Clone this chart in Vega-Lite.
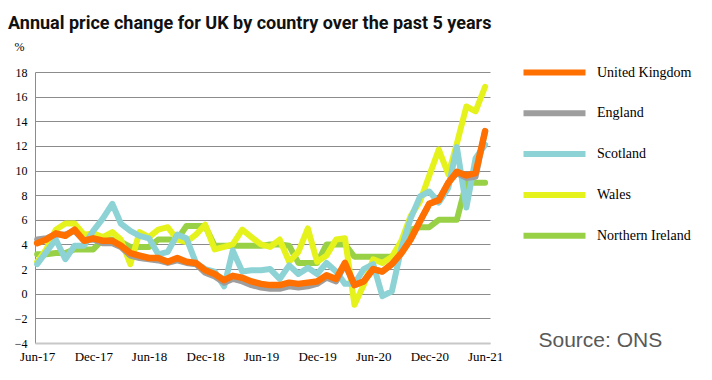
{
  "$schema": "https://vega.github.io/schema/vega-lite/v6.json",
  "width": 455,
  "height": 271,
  "autosize": {"type": "none"},
  "padding": {"left": 35, "top": 72, "right": 222, "bottom": 37},
  "background": "white",
  "title": {
    "text": "Annual price change for UK by country over the past 5 years",
    "anchor": "start",
    "frame": "group",
    "font": "Roboto",
    "fontSize": 18,
    "fontWeight": "bold",
    "color": "#111111",
    "orient": "top",
    "offset": 7,
    "dx": -27
  },
  "config": {
    "view": {"stroke": null},
    "legend": {
      "orient": "none",
      "legendX": 506,
      "legendY": -13,
      "symbolType": "M-3,0H3",
      "symbolSize": 427,
      "symbolStrokeWidth": 6,
      "labelFont": "Liberation Serif",
      "labelFontSize": 14,
      "labelColor": "#000000",
      "labelOffset": 29,
      "rowPadding": 14.8,
      "title": null
    }
  },
  "datasets": {
    "uk": [
      {"d":"2017-06","v":4.1},{"d":"2017-07","v":4.4},{"d":"2017-08","v":4.9},{"d":"2017-09","v":4.7},{"d":"2017-10","v":5.2},{"d":"2017-11","v":4.3},{"d":"2017-12","v":4.5},
      {"d":"2018-01","v":4.3},{"d":"2018-02","v":4.3},{"d":"2018-03","v":3.9},{"d":"2018-04","v":3.3},{"d":"2018-05","v":3.1},{"d":"2018-06","v":2.9},{"d":"2018-07","v":2.9},{"d":"2018-08","v":2.6},{"d":"2018-09","v":2.9},{"d":"2018-10","v":2.6},{"d":"2018-11","v":2.5},{"d":"2018-12","v":1.9},
      {"d":"2019-01","v":1.6},{"d":"2019-02","v":1.1},{"d":"2019-03","v":1.45},{"d":"2019-04","v":1.3},{"d":"2019-05","v":1.0},{"d":"2019-06","v":0.8},{"d":"2019-07","v":0.7},{"d":"2019-08","v":0.7},{"d":"2019-09","v":0.9},{"d":"2019-10","v":0.8},{"d":"2019-11","v":0.9},{"d":"2019-12","v":1.0},
      {"d":"2020-01","v":1.5},{"d":"2020-02","v":1.2},{"d":"2020-03","v":2.5},{"d":"2020-04","v":0.7},{"d":"2020-05","v":1.0},{"d":"2020-06","v":2.0},{"d":"2020-07","v":1.8},{"d":"2020-08","v":2.4},{"d":"2020-09","v":3.3},{"d":"2020-10","v":4.4},{"d":"2020-11","v":5.9},{"d":"2020-12","v":7.3},
      {"d":"2021-01","v":7.6},{"d":"2021-02","v":9.0},{"d":"2021-03","v":9.9},{"d":"2021-04","v":9.6},{"d":"2021-05","v":9.8},{"d":"2021-06","v":13.2}
    ],
    "england": [
      {"d":"2017-06","v":4.4},{"d":"2017-07","v":4.5},{"d":"2017-08","v":4.8},{"d":"2017-09","v":4.8},{"d":"2017-10","v":5.1},{"d":"2017-11","v":4.3},{"d":"2017-12","v":4.4},
      {"d":"2018-01","v":4.1},{"d":"2018-02","v":4.1},{"d":"2018-03","v":3.8},{"d":"2018-04","v":3.1},{"d":"2018-05","v":2.9},{"d":"2018-06","v":2.8},{"d":"2018-07","v":2.7},{"d":"2018-08","v":2.5},{"d":"2018-09","v":2.7},{"d":"2018-10","v":2.5},{"d":"2018-11","v":2.4},{"d":"2018-12","v":1.7},
      {"d":"2019-01","v":1.4},{"d":"2019-02","v":0.9},{"d":"2019-03","v":1.2},{"d":"2019-04","v":1.0},{"d":"2019-05","v":0.7},{"d":"2019-06","v":0.5},{"d":"2019-07","v":0.4},{"d":"2019-08","v":0.4},{"d":"2019-09","v":0.6},{"d":"2019-10","v":0.5},{"d":"2019-11","v":0.6},{"d":"2019-12","v":0.8},
      {"d":"2020-01","v":1.3},{"d":"2020-02","v":1.0},{"d":"2020-03","v":2.4},{"d":"2020-04","v":0.7},{"d":"2020-05","v":1.0},{"d":"2020-06","v":2.0},{"d":"2020-07","v":1.8},{"d":"2020-08","v":2.4},{"d":"2020-09","v":3.3},{"d":"2020-10","v":4.4},{"d":"2020-11","v":5.9},{"d":"2020-12","v":7.3},
      {"d":"2021-01","v":7.6},{"d":"2021-02","v":9.0},{"d":"2021-03","v":9.8},{"d":"2021-04","v":9.4},{"d":"2021-05","v":9.5},{"d":"2021-06","v":13.2}
    ],
    "scotland": [
      {"d":"2017-06","v":2.4},{"d":"2017-07","v":3.4},{"d":"2017-08","v":4.4},{"d":"2017-09","v":2.8},{"d":"2017-10","v":3.9},{"d":"2017-11","v":3.9},{"d":"2017-12","v":5.1},
      {"d":"2018-01","v":6.1},{"d":"2018-02","v":7.3},{"d":"2018-03","v":5.7},{"d":"2018-04","v":5.1},{"d":"2018-05","v":4.7},{"d":"2018-06","v":4.5},{"d":"2018-07","v":3.2},{"d":"2018-08","v":3.4},{"d":"2018-09","v":4.8},{"d":"2018-10","v":4.5},{"d":"2018-11","v":2.5},{"d":"2018-12","v":2.0},
      {"d":"2019-01","v":1.8},{"d":"2019-02","v":0.6},{"d":"2019-03","v":3.5},{"d":"2019-04","v":1.8},{"d":"2019-05","v":1.9},{"d":"2019-06","v":1.9},{"d":"2019-07","v":2.0},{"d":"2019-08","v":1.2},{"d":"2019-09","v":2.3},{"d":"2019-10","v":1.6},{"d":"2019-11","v":2.1},{"d":"2019-12","v":1.6},
      {"d":"2020-01","v":2.5},{"d":"2020-02","v":1.8},{"d":"2020-03","v":0.8},{"d":"2020-04","v":0.8},{"d":"2020-05","v":2.0},{"d":"2020-06","v":2.4},{"d":"2020-07","v":-0.2},{"d":"2020-08","v":0.2},{"d":"2020-09","v":3.7},{"d":"2020-10","v":6.1},{"d":"2020-11","v":7.9},{"d":"2020-12","v":8.3},
      {"d":"2021-01","v":7.4},{"d":"2021-02","v":8.6},{"d":"2021-03","v":11.9},{"d":"2021-04","v":7.0},{"d":"2021-05","v":11.0},{"d":"2021-06","v":12.1}
    ],
    "wales": [
      {"d":"2017-06","v":2.6},{"d":"2017-07","v":3.6},{"d":"2017-08","v":5.2},{"d":"2017-09","v":5.7},{"d":"2017-10","v":5.7},{"d":"2017-11","v":4.8},{"d":"2017-12","v":4.9},
      {"d":"2018-01","v":4.6},{"d":"2018-02","v":5.0},{"d":"2018-03","v":4.4},{"d":"2018-04","v":2.4},{"d":"2018-05","v":5.0},{"d":"2018-06","v":4.6},{"d":"2018-07","v":5.2},{"d":"2018-08","v":5.4},{"d":"2018-09","v":4.4},{"d":"2018-10","v":4.2},{"d":"2018-11","v":4.8},{"d":"2018-12","v":5.6},
      {"d":"2019-01","v":3.6},{"d":"2019-02","v":3.8},{"d":"2019-03","v":4.0},{"d":"2019-04","v":5.2},{"d":"2019-05","v":4.6},{"d":"2019-06","v":4.0},{"d":"2019-07","v":3.8},{"d":"2019-08","v":4.4},{"d":"2019-09","v":2.6},{"d":"2019-10","v":3.4},{"d":"2019-11","v":5.3},{"d":"2019-12","v":2.6},
      {"d":"2020-01","v":3.1},{"d":"2020-02","v":4.4},{"d":"2020-03","v":4.5},{"d":"2020-04","v":-0.9},{"d":"2020-05","v":0.7},{"d":"2020-06","v":2.8},{"d":"2020-07","v":2.5},{"d":"2020-08","v":3.0},{"d":"2020-09","v":4.3},{"d":"2020-10","v":6.3},{"d":"2020-11","v":7.5},{"d":"2020-12","v":9.6},
      {"d":"2021-01","v":11.7},{"d":"2021-02","v":9.7},{"d":"2021-03","v":12.2},{"d":"2021-04","v":15.2},{"d":"2021-05","v":14.8},{"d":"2021-06","v":16.8}
    ],
    "ni": [
      {"d":"2017-06","v":3.2},{"d":"2017-07","v":3.2},{"d":"2017-08","v":3.3},{"d":"2017-09","v":3.3},{"d":"2017-10","v":3.6},{"d":"2017-11","v":3.6},{"d":"2017-12","v":3.6},
      {"d":"2018-01","v":4.4},{"d":"2018-02","v":4.4},{"d":"2018-03","v":4.2},{"d":"2018-04","v":3.8},{"d":"2018-05","v":3.8},{"d":"2018-06","v":3.8},{"d":"2018-07","v":4.4},{"d":"2018-08","v":4.4},{"d":"2018-09","v":4.4},{"d":"2018-10","v":5.5},{"d":"2018-11","v":5.5},{"d":"2018-12","v":5.5},
      {"d":"2019-01","v":3.9},{"d":"2019-02","v":3.9},{"d":"2019-03","v":3.9},{"d":"2019-04","v":3.9},{"d":"2019-05","v":3.9},{"d":"2019-06","v":3.9},{"d":"2019-07","v":4.0},{"d":"2019-08","v":4.0},{"d":"2019-09","v":3.9},{"d":"2019-10","v":2.5},{"d":"2019-11","v":2.5},{"d":"2019-12","v":2.5},
      {"d":"2020-01","v":4.0},{"d":"2020-02","v":4.0},{"d":"2020-03","v":4.0},{"d":"2020-04","v":3.0},{"d":"2020-05","v":3.0},{"d":"2020-06","v":3.0},{"d":"2020-07","v":3.0},{"d":"2020-08","v":3.0},{"d":"2020-09","v":3.8},{"d":"2020-10","v":5.2},{"d":"2020-11","v":5.4},{"d":"2020-12","v":5.4},
      {"d":"2021-01","v":6.0},{"d":"2021-02","v":6.0},{"d":"2021-03","v":6.0},{"d":"2021-04","v":9.0},{"d":"2021-05","v":9.0},{"d":"2021-06","v":9.0}
    ]
  },
  "encoding": {
    "x": {
      "field": "d",
      "type": "temporal",
      "scale": {
        "type": "utc",
        "domain": [
          {"year": 2017, "month": 5, "date": 25, "utc": true},
          {"year": 2021, "month": 6, "date": 17, "utc": true}
        ],
        "nice": false
      },
      "axis": {
        "values": [
          {"year": 2017, "month": 6, "date": 1, "utc": true},
          {"year": 2017, "month": 12, "date": 1, "utc": true},
          {"year": 2018, "month": 6, "date": 1, "utc": true},
          {"year": 2018, "month": 12, "date": 1, "utc": true},
          {"year": 2019, "month": 6, "date": 1, "utc": true},
          {"year": 2019, "month": 12, "date": 1, "utc": true},
          {"year": 2020, "month": 6, "date": 1, "utc": true},
          {"year": 2020, "month": 12, "date": 1, "utc": true},
          {"year": 2021, "month": 6, "date": 1, "utc": true}
        ],
        "labelExpr": "utcFormat(datum.value, '%b-%y')",
        "grid": false,
        "ticks": false,
        "domain": true,
        "domainColor": "#c8c8c8",
        "domainWidth": 2,
        "labelFont": "Liberation Serif",
        "labelFontSize": 13,
        "labelColor": "#000000",
        "labelPadding": 7,
        "labelFlush": false,
        "labelOverlap": false,
        "zindex": 1,
        "title": "Source: ONS",
        "titleFont": "Liberation Sans",
        "titleFontSize": 21,
        "titleFontWeight": "normal",
        "titleColor": "#595959",
        "titleAlign": "left",
        "titleBaseline": "alphabetic",
        "titleAnchor": null,
        "titleX": 503,
        "titleY": 3
      }
    },
    "y": {
      "field": "v",
      "type": "quantitative",
      "scale": {"domain": [-4, 18], "nice": false, "zero": false},
      "axis": {
        "values": [-4, -2, 0, 2, 4, 6, 8, 10, 12, 14, 16, 18],
        "grid": true,
        "gridColor": {"condition": {"test": "datum.value === -4", "value": "#c8c8c8"}, "value": "#8c8c8c"},
        "gridWidth": 1.2,
        "domain": true,
        "domainColor": "#8c8c8c",
        "domainWidth": 1,
        "ticks": false,
        "labelFont": "Liberation Serif",
        "labelFontSize": 12,
        "labelColor": "#000000",
        "labelPadding": 8,
        "title": "%",
        "titleAngle": 0,
        "titleFont": "Liberation Serif",
        "titleFontSize": 12,
        "titleFontWeight": "normal",
        "titleColor": "#000000",
        "titleAlign": "left",
        "titleBaseline": "alphabetic",
        "titleX": -21,
        "titleY": -22
      }
    },
    "color": {
      "scale": {
        "domain": ["United Kingdom", "England", "Scotland", "Wales", "Northern Ireland"],
        "range": ["#FF7000", "#9E9E9E", "#8DD3D6", "#E5F21C", "#99D146"]
      }
    }
  },
  "layer": [
    {"data": {"name": "ni"}, "mark": {"type": "line", "strokeWidth": 6, "strokeJoin": "round", "strokeCap": "round"}, "encoding": {"color": {"datum": "Northern Ireland"}}},
    {"data": {"name": "wales"}, "mark": {"type": "line", "strokeWidth": 6, "strokeJoin": "round", "strokeCap": "round"}, "encoding": {"color": {"datum": "Wales"}}},
    {"data": {"name": "scotland"}, "mark": {"type": "line", "strokeWidth": 6, "strokeJoin": "round", "strokeCap": "round"}, "encoding": {"color": {"datum": "Scotland"}}},
    {"data": {"name": "england"}, "mark": {"type": "line", "strokeWidth": 6, "strokeJoin": "round", "strokeCap": "round"}, "encoding": {"color": {"datum": "England"}}},
    {"data": {"name": "uk"}, "mark": {"type": "line", "strokeWidth": 6.5, "strokeJoin": "round", "strokeCap": "round"}, "encoding": {"color": {"datum": "United Kingdom"}}}
  ]
}
